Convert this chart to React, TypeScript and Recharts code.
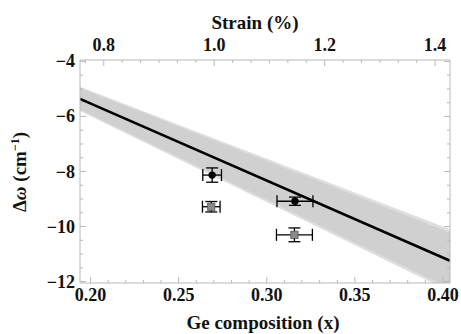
import { ComposedChart, XAxis, YAxis, Line, Area, Scatter, ErrorBar } from 'recharts';

// Ge composition at the plot edges, with the fit line and its band
const edgeX = [0.194, 0.404];
const fitY = [-5.36, -11.24];
const bandOuterLow = [-5.8, -12.36];
const bandOuterHigh = [-4.92, -10.1];
const bandInnerLow = [-5.75, -12.25];
const bandInnerHigh = [-4.97, -10.22];

// strain (top axis) read at the same two plot edges
const edgeStrain = [0.757, 1.427];

// measured points (filled circles and grey squares)
const circleX = [0.269, 0.316];
const circleY = [-8.13, -9.08];
const circleXErr = [0.0053, 0.0102];
const circleYErr = [0.26, 0.15];

const squareX = [0.2685, 0.3157];
const squareY = [-9.28, -10.3];
const squareXErr = [0.005, 0.0102];
const squareYErr = [0.19, 0.25];

const xMajor = [0.2, 0.25, 0.3, 0.35, 0.4];
const yMajor = [-4, -6, -8, -10, -12];
const strainMajor = [0.8, 1.0, 1.2, 1.4];

const xTicks = Array.from({ length: 21 }, (_, i) => +(0.2 + i * 0.01).toFixed(3));
const yTicks = Array.from({ length: 17 }, (_, i) => +(-4 - i * 0.5).toFixed(2));
const strainTicks = Array.from({ length: 22 }, (_, i) => 0.7667 + i / 30).filter((v) => v > 0.757 && v < 1.427);

// strain <-> composition, linear between the two edges
const toComp = (s: number) =>
  edgeX[0] + ((s - edgeStrain[0]) / (edgeStrain[1] - edgeStrain[0])) * (edgeX[1] - edgeX[0]);
const toStrain = (c: number) =>
  edgeStrain[0] + ((c - edgeX[0]) / (edgeX[1] - edgeX[0])) * (edgeStrain[1] - edgeStrain[0]);
const topTicks = strainTicks.map(toComp);

const lineData = edgeX.map((x, i) => ({
  x,
  fit: fitY[i],
  outer: [bandOuterLow[i], bandOuterHigh[i]],
  inner: [bandInnerLow[i], bandInnerHigh[i]],
}));
const circles = circleX.map((x, i) => ({ x, y: circleY[i], ex: circleXErr[i], ey: circleYErr[i] }));
const squares = squareX.map((x, i) => ({ x, y: squareY[i], ex: squareXErr[i], ey: squareYErr[i] }));

const W = 461;
const H = 334;
const TOP = 60;
const BOTTOM = 283;
const LEFT = 80;
const RIGHT = 450;
const FRAME = '#b8b8b8';
const textStyle = {
  fontFamily: '"Liberation Serif", "Times New Roman", "DejaVu Serif", serif',
  fontWeight: 700,
  fill: '#111',
};

const near = (v: number, list: number[]) => list.some((m) => Math.abs(m - v) < 1e-4);

function BottomTick({ x, payload }: any) {
  const major = near(payload.value, xMajor);
  return (
    <g>
      <line x1={x} x2={x} y1={BOTTOM} y2={BOTTOM - (major ? 6 : 3)} stroke={FRAME} />
      {major && (
        <text x={x} y={301} textAnchor="middle" fontSize={18} style={textStyle}>
          {payload.value.toFixed(2)}
        </text>
      )}
    </g>
  );
}

function TopTick({ x, payload }: any) {
  const s = toStrain(payload.value);
  const major = near(s, strainMajor);
  return (
    <g>
      <line x1={x} x2={x} y1={TOP} y2={TOP + (major ? 6 : 3)} stroke={FRAME} />
      {major && (
        <text x={x} y={51} textAnchor="middle" fontSize={18} style={textStyle}>
          {s.toFixed(1)}
        </text>
      )}
    </g>
  );
}

function LeftTick({ y, payload }: any) {
  const major = near(payload.value, yMajor);
  return (
    <g>
      <line x1={LEFT} x2={LEFT + (major ? 6 : 3)} y1={y} y2={y} stroke={FRAME} />
      {major && (
        <text x={75} y={y + 6} textAnchor="end" fontSize={18} style={textStyle}>
          {'\u2212' + Math.abs(payload.value)}
        </text>
      )}
    </g>
  );
}

function RightTick({ y, payload }: any) {
  const major = near(payload.value, yMajor);
  return <line x1={RIGHT} x2={RIGHT - (major ? 6 : 3)} y1={y} y2={y} stroke={FRAME} />;
}

const Dot = ({ cx, cy }: any) => <circle cx={cx} cy={cy} r={3.7} fill="#000" />;
const Square = ({ cx, cy }: any) => (
  <rect x={cx - 3.6} y={cy - 3.6} width={7.2} height={7.2} fill="#8a8a8a" stroke="#555" strokeWidth={0.8} />
);
const Empty = () => <g />;

export default function App() {
  return (
    <div style={{ position: 'absolute', left: 0, top: 0, width: W, height: H, background: '#fff' }}>
      <ComposedChart width={W} height={H} data={lineData} margin={{ top: 0, right: 0, bottom: 0, left: 0 }}>
        <XAxis
          type="number"
          dataKey="x"
          domain={[edgeX[0], edgeX[1]]}
          ticks={xTicks}
          interval={0}
          height={51}
          allowDataOverflow
          tickLine={false}
          axisLine={{ stroke: FRAME }}
          tick={<BottomTick />}
        />
        <XAxis
          xAxisId="top"
          orientation="top"
          type="number"
          dataKey="x"
          domain={[edgeX[0], edgeX[1]]}
          ticks={topTicks}
          interval={0}
          height={60}
          allowDataOverflow
          tickLine={false}
          axisLine={{ stroke: FRAME }}
          tick={<TopTick />}
        />
        <YAxis
          type="number"
          domain={[-12.05, -3.95]}
          ticks={yTicks}
          interval={0}
          width={80}
          allowDataOverflow
          tickLine={false}
          axisLine={{ stroke: FRAME }}
          tick={<LeftTick />}
        />
        <YAxis
          yAxisId="r"
          orientation="right"
          type="number"
          domain={[-12.05, -3.95]}
          ticks={yTicks}
          interval={0}
          width={11}
          allowDataOverflow
          tickLine={false}
          axisLine={{ stroke: FRAME }}
          tick={<RightTick />}
        />
        <Area dataKey="outer" type="linear" stroke="none" fill="#dedede" fillOpacity={1} isAnimationActive={false} />
        <Area dataKey="inner" type="linear" stroke="none" fill="#d0d0d0" fillOpacity={1} isAnimationActive={false} />
        <Line dataKey="fit" type="linear" stroke="#000" strokeWidth={2.6} dot={false} isAnimationActive={false} />
        <Scatter data={squares} dataKey="y" shape={<Square />} isAnimationActive={false} />
        <Scatter data={squares} dataKey="y" shape={<Empty />} isAnimationActive={false}>
          <ErrorBar dataKey="ex" direction="x" width={6} stroke="#000" strokeWidth={1.3} />
          <ErrorBar dataKey="ey" direction="y" width={6} stroke="#000" strokeWidth={1.3} />
        </Scatter>
        <Scatter data={circles} dataKey="y" shape={<Dot />} isAnimationActive={false}>
          <ErrorBar dataKey="ex" direction="x" width={6} stroke="#000" strokeWidth={1.3} />
          <ErrorBar dataKey="ey" direction="y" width={6} stroke="#000" strokeWidth={1.3} />
        </Scatter>
      </ComposedChart>
      <svg width={W} height={H} style={{ position: 'absolute', left: 0, top: 0, pointerEvents: 'none' }}>
        <text x={255} y={29} textAnchor="middle" fontSize={19} style={textStyle}>
          Strain (%)
        </text>
        <text x={263} y={329} textAnchor="middle" fontSize={19} style={textStyle}>
          Ge composition (x)
        </text>
        <text transform="translate(26,172) rotate(-90)" textAnchor="middle" fontSize={19} style={textStyle}>
          {'\u0394'}
          <tspan fontStyle="italic">{'\u03c9'}</tspan>
          {' (cm'}
          <tspan dy={-7} fontSize={12}>
            {'\u22121'}
          </tspan>
          <tspan dy={7}>)</tspan>
        </text>
      </svg>
    </div>
  );
}
